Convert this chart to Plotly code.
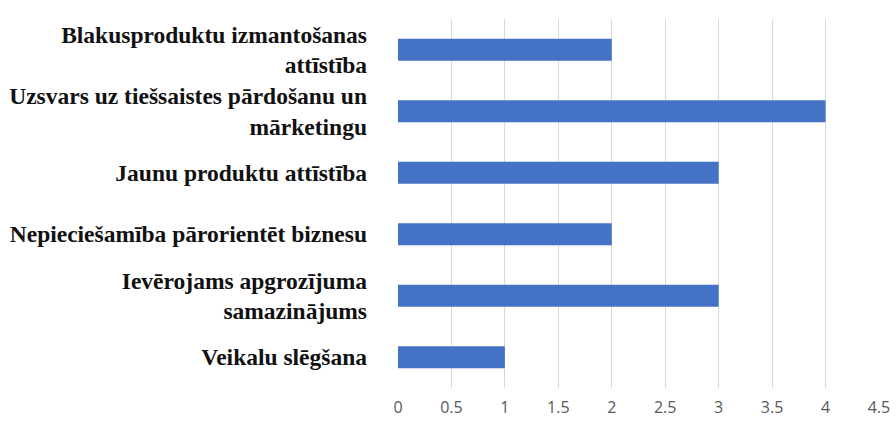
import plotly.graph_objects as go

categories = [
    "<b>Blakusproduktu izmantošanas<br>attīstība</b>",
    "<b>Uzsvars uz tiešsaistes pārdošanu un<br>mārketingu</b>",
    "<b>Jaunu produktu attīstība</b>",
    "<b>Nepieciešamība pārorientēt biznesu</b>",
    "<b>Ievērojams apgrozījuma<br>samazinājums</b>",
    "<b>Veikalu slēgšana</b>",
]
values = [2, 4, 3, 2, 3, 1]
tick_vals = [0, 0.5, 1, 1.5, 2, 2.5, 3, 3.5, 4, 4.5]
tick_text = ["0", "0.5", "1", "1.5", "2", "2.5", "3", "3.5", "4", "4.5"]

fig = go.Figure(go.Bar(
    x=values, y=categories, orientation="h",
    marker=dict(color="#4472C4", line=dict(width=0)),
    hoverinfo="x+y",
))

fig.update_layout(
    width=896, height=421,
    margin=dict(l=398, r=17, t=19, b=33, autoexpand=False),
    paper_bgcolor="white", plot_bgcolor="white",
    bargap=0.64,
    showlegend=False,
    xaxis=dict(
        range=[0, 4.5], tickvals=tick_vals, ticktext=tick_text,
        showgrid=True, gridcolor="#D9D9D9", gridwidth=1,
        zeroline=False, showline=False, automargin=False,
        tickfont=dict(family="Open Sans, sans-serif", size=16, color="#595959"),
        ticklabelstandoff=8,
    ),
    yaxis=dict(
        autorange="reversed", automargin=False,
        showgrid=False, zeroline=False, showline=False,
        tickfont=dict(family="Liberation Serif, Times New Roman, serif", size=23.5, color="#111111"),
        ticklabelstandoff=30,
    ),
)

fig.write_html(
    "out.html",
    config={"displayModeBar": False},
    post_script="document.body.style.margin='0';document.body.style.overflow='hidden';",
)
